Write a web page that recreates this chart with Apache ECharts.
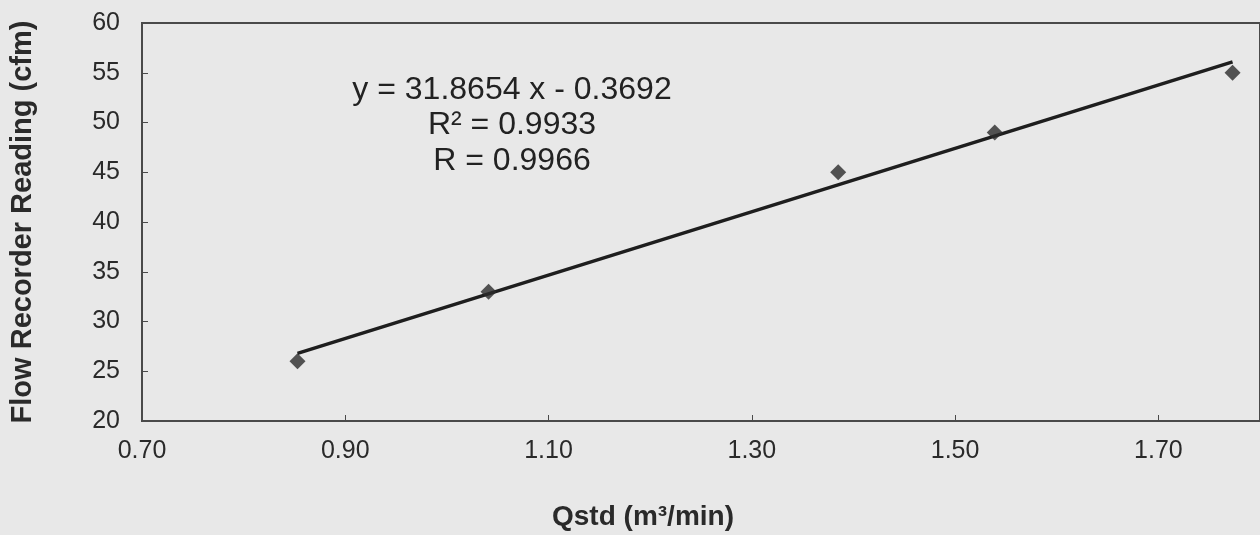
<!DOCTYPE html>
<html>
<head>
<meta charset="utf-8">
<script src="https://cdn.jsdelivr.net/npm/echarts@6/dist/echarts.min.js"></script>
<style>
html,body{margin:0;padding:0;background:#e8e8e8;}
#c{width:1260px;height:535px;}
</style>
</head>
<body>
<div id="c"></div>
<script>
// Data
const qstd = [0.853, 1.041, 1.385, 1.539, 1.773];
const flowReading = [26, 33, 45, 49, 55];
const trendX = [0.853, 1.773];
const trendY = [26.8, 56.1];
const xTicks = ['0.70', '0.90', '1.10', '1.30', '1.50', '1.70'];
const yTicks = ['20', '25', '30', '35', '40', '45', '50', '55', '60'];
const equationLines = ['y = 31.8654 x - 0.3692', 'R² = 0.9933', 'R = 0.9966'];

const chart = echarts.init(document.getElementById('c'));
const font = 'Liberation Sans, Arial, sans-serif';
const axisColor = '#4a4a4a';

chart.setOption({
  backgroundColor: '#e8e8e8',
  animation: false,
  grid: {left: 131, top: 23, width: 1132, height: 398, show: true, borderColor: axisColor, borderWidth: 2, backgroundColor: '#e8e8e8'},
  xAxis: {
    type: 'value', min: 0.7, max: 1.8, interval: 0.2,
    axisLine: {show: true, lineStyle: {color: axisColor, width: 2}},
    axisTick: {show: true, inside: true, length: 6, lineStyle: {color: axisColor}},
    splitLine: {show: false},
    axisLabel: {
      showMaxLabel: false, margin: 18, color: '#2a2a2a', fontFamily: font, fontSize: 25,
      formatter: v => { const s = v.toFixed(2); return xTicks.indexOf(s) >= 0 ? s : ''; }
    }
  },
  yAxis: {
    type: 'value', min: 20, max: 60, interval: 5,
    name: 'Flow Recorder Reading (cfm)', nameLocation: 'middle', nameGap: 105,
    nameTextStyle: {fontFamily: font, fontSize: 29, fontWeight: 'bold', color: '#2a2a2a'},
    axisLine: {show: true, lineStyle: {color: axisColor, width: 2}},
    axisTick: {show: true, inside: true, length: 6, lineStyle: {color: axisColor}},
    splitLine: {show: false},
    axisLabel: {
      margin: 22, color: '#2a2a2a', fontFamily: font, fontSize: 25,
      formatter: v => { const s = String(v); return yTicks.indexOf(s) >= 0 ? s : ''; }
    }
  },
  series: [
    {
      type: 'line', data: trendX.map((x, i) => [x, trendY[i]]),
      symbol: 'none', lineStyle: {color: '#1e1e1e', width: 3.5}, z: 2
    },
    {
      type: 'scatter', data: qstd.map((x, i) => [x, flowReading[i]]),
      symbol: 'diamond', symbolSize: 16, itemStyle: {color: '#2a2a2a'}, z: 3
    }
  ],
  graphic: [
    ...equationLines.map((t, i) => ({
      type: 'text', x: 512, y: 90 + i * 35.5,
      style: {text: t, fontFamily: font, fontSize: 32, fill: '#222', textAlign: 'center', textVerticalAlign: 'middle'}
    })),
    {
      type: 'text', x: 643, y: 517,
      style: {text: 'Qstd (m³/min)', fontFamily: font, fontSize: 28, fontWeight: 'bold', fill: '#2a2a2a', textAlign: 'center', textVerticalAlign: 'middle'}
    }
  ]
});
</script>
</body>
</html>
